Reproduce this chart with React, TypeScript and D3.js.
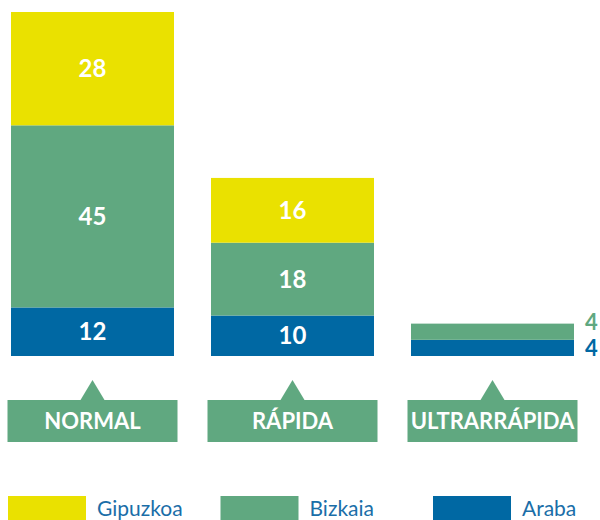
import React from 'react';
import * as d3 from 'd3';

// data
const categories = ['NORMAL', 'RÁPIDA', 'ULTRARRÁPIDA'];
const series = ['Araba', 'Bizkaia', 'Gipuzkoa'];
const araba = [12, 10, 4];
const bizkaia = [45, 18, 4];
const gipuzkoa = [28, 16, 0];
const legendOrder = ['Gipuzkoa', 'Bizkaia', 'Araba'];

const colors: Record<string, string> = {
  Araba: '#0068a3',
  Bizkaia: '#60a880',
  Gipuzkoa: '#eae100',
};

const W = 600;
const H = 520;
const FONT = 'Lato, "Open Sans", sans-serif';

export default function App() {
  const rows = categories.map((c, i) => ({
    cat: c,
    Araba: araba[i],
    Bizkaia: bizkaia[i],
    Gipuzkoa: gipuzkoa[i],
  }));
  const stacked = d3.stack<any>().keys(series)(rows);

  const x = d3.scaleBand().domain(categories).range([11, 574]).paddingInner(0.185).paddingOuter(0);
  const maxTotal = d3.max(rows, (r) => r.Araba + r.Bizkaia + r.Gipuzkoa) as number;
  const y = d3.scaleLinear().domain([0, maxTotal]).range([356, 12]);

  const bw = x.bandwidth();
  const minInside = 26; // segments thinner than this get their label outside

  // outside labels, stacked bottom-up so they don't collide
  const outside: { cat: string; key: string; value: number; cy: number }[] = [];
  categories.forEach((c, i) => {
    let lastY = Infinity;
    stacked.forEach((layer) => {
      const [a, b] = layer[i];
      const v = b - a;
      const h = y(a) - y(b);
      if (v > 0 && h < minInside) {
        let cy = (y(a) + y(b)) / 2;
        if (lastY - cy < 26) cy = lastY - 26;
        lastY = cy;
        outside.push({ cat: c, key: layer.key, value: v, cy });
      }
    });
  });

  const labelTop = 400;
  const labelH = 42;
  const triH = 20;
  const triW = 24;

  const legendX = d3.scalePoint().domain(legendOrder).range([8, 433]);

  return (
    <svg width={W} height={H} style={{ position: 'absolute', left: 0, top: 0 }} fontFamily={FONT}>
      <rect width={W} height={H} fill="#fff" />
      {stacked.map((layer) => (
        <g key={layer.key} fill={colors[layer.key]}>
          {layer.map((d, i) => {
            const h = y(d[0]) - y(d[1]);
            if (h <= 0) return null;
            return (
              <rect key={i} x={x(categories[i])} y={y(d[1])} width={bw} height={h} />
            );
          })}
        </g>
      ))}
      {stacked.map((layer) =>
        layer.map((d, i) => {
          const h = y(d[0]) - y(d[1]);
          if (h < minInside) return null;
          return (
            <text
              key={layer.key + i}
              x={(x(categories[i]) as number) + bw / 2}
              y={(y(d[0]) + y(d[1])) / 2}
              dy="0.36em"
              textAnchor="middle"
              fill="#fff"
              fontWeight={700}
              fontSize={24}
            >
              {d[1] - d[0]}
            </text>
          );
        })
      )}
      {outside.map((o) => (
        <text
          key={o.cat + o.key}
          x={(x(o.cat) as number) + bw + 11}
          y={o.cy}
          dy="0.36em"
          fill={colors[o.key]}
          fontWeight={700}
          fontSize={22}
        >
          {o.value}
        </text>
      ))}
      {categories.map((c) => {
        const cx = (x(c) as number) + bw / 2;
        return (
          <g key={c}>
            <path
              d={`M${cx - triW / 2},${labelTop}L${cx},${labelTop - triH}L${cx + triW / 2},${labelTop}Z`}
              fill={colors.Bizkaia}
            />
            <rect x={(x(c) as number) - 3.5} y={labelTop} width={bw + 7} height={labelH} fill={colors.Bizkaia} />
            <text
              x={cx}
              y={labelTop + labelH / 2}
              dy="0.36em"
              textAnchor="middle"
              fill="#fff"
              fontWeight={700}
              fontSize={22}
            >
              {c}
            </text>
          </g>
        );
      })}
      {legendOrder.map((k) => (
        <g key={k} transform={`translate(${legendX(k)},496)`}>
          <rect width={78} height={24} fill={colors[k]} />
          <text x={89} y={12} dy="0.36em" fill="#1a6ea8" fontSize={21}>
            {k}
          </text>
        </g>
      ))}
    </svg>
  );
}
